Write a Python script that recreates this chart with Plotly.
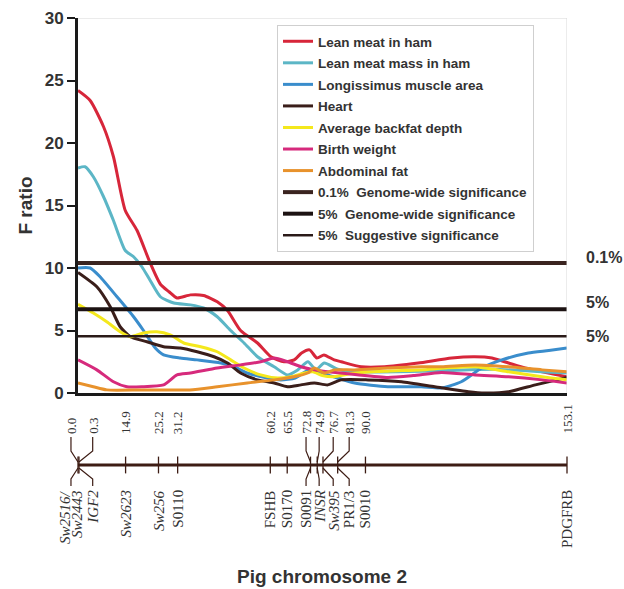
import plotly.graph_objects as go

# ---------------- data ----------------
X_MAX = 153.1

lean_ham_x = [0, 3.8, 8, 11.1, 14.8, 18.5, 22.6, 25.8, 28.5, 31, 35.2, 39.3, 43.6, 46.8, 50.9, 56.2, 60.4, 64.5,
              67.7, 70, 72.5, 74.8, 77, 80.2, 82.4, 88.7, 96, 106.5, 117, 124.2, 129.6, 134.8, 140, 145.3, 153.1]
lean_ham_y = [24.2, 23.4, 21.3, 18.9, 14.6, 13.0, 10.4, 8.7, 8.1, 7.6, 7.85, 7.8, 7.3, 6.6, 5.0, 4.0, 2.9, 2.5,
              2.65, 3.2, 3.45, 2.8, 3.05, 2.65, 2.5, 2.1, 2.1, 2.4, 2.8, 2.9, 2.8, 2.4, 2.0, 1.7, 1.3]

lean_mass_x = [0, 2.2, 4.8, 8, 11.1, 14.8, 17.4, 20, 22.6, 25.8, 30, 35.2, 39.3, 43.6, 47.8, 52, 56.2, 61.4,
               65.6, 68.8, 72, 74.5, 77.1, 81.3, 86, 100, 115, 130, 145, 153.1]
lean_mass_y = [18.0, 18.1, 17.3, 15.7, 13.8, 11.4, 10.9, 10.1, 9.0, 7.7, 7.2, 7.05, 6.8, 6.1, 5.0, 4.0, 2.9, 2.1,
               1.45, 1.85, 2.5, 1.85, 2.4, 1.9, 1.7, 1.7, 1.8, 1.9, 1.7, 1.6]

longis_x = [0, 3.8, 6.9, 12.2, 17.4, 20.5, 24.2, 26.8, 32, 37.3, 44.7, 48.8, 53, 59.3, 63.5, 68, 72, 76, 80,
            86.6, 97, 107.5, 113.8, 120, 126.4, 132.7, 141, 147.4, 153.1]
longis_y = [10.0, 10.0, 9.3, 7.7, 6.1, 5.0, 3.6, 3.05, 2.8, 2.65, 2.4, 2.1, 1.6, 1.2, 1.05, 1.2, 1.8, 1.6, 1.3,
            0.8, 0.5, 0.5, 0.4, 0.9, 2.0, 2.65, 3.2, 3.4, 3.6]

heart_x = [0, 5.9, 10.1, 13.2, 16.4, 21.6, 26.8, 32, 37.3, 42.6, 46.8, 50.9, 56.2, 61.4, 65.6, 69.8, 74, 78.2,
           82.4, 90.8, 101.3, 111.7, 122.2, 127.5, 134.8, 143.2, 153.1]
heart_y = [9.65, 8.5, 6.9, 5.3, 4.5, 4.1, 3.7, 3.6, 3.3, 2.9, 2.4, 1.6, 1.05, 0.8, 0.5, 0.65, 0.8, 0.65,
           1.05, 1.05, 0.9, 0.5, 0.1, 0.0, 0.1, 0.65, 1.25]

backfat_x = [0, 4.8, 9, 13.2, 16.4, 20.5, 24.7, 28.9, 33.1, 38.4, 43.6, 47.8, 52, 57.2, 62.5, 66.7, 70.9, 73.5,
             76.5, 80, 86.6, 97, 107.5, 115, 124.3, 134.8, 145.3, 153.1]
backfat_y = [7.1, 6.4, 5.7, 4.9, 4.5, 4.8, 4.9, 4.65, 4.0, 3.7, 3.3, 2.65, 2.0, 1.45, 1.2, 1.3, 1.6, 1.7,
             1.4, 1.3, 1.6, 1.75, 1.85, 2.0, 2.1, 1.7, 1.3, 1.05]

birth_x = [0, 5.9, 11.1, 15.3, 20, 26.8, 31, 35.2, 43.6, 50.9, 57.2, 61.4, 65.6, 69.8, 74, 78.2, 86, 97, 105,
           113.8, 124.3, 134.8, 145.3, 153.1]
birth_y = [2.65, 1.85, 0.9, 0.5, 0.5, 0.65, 1.45, 1.6, 2.0, 2.25, 2.5, 2.8, 2.5, 2.1, 1.85, 1.7, 1.5, 1.25, 1.4,
           1.65, 1.45, 1.3, 1.05, 0.8]

abdom_x = [0, 4.8, 9, 20, 35, 43.6, 53, 61.4, 67.7, 71.9, 74, 77.1, 80.3, 86.6, 97, 107.5, 113.8, 124.3,
           134.8, 145.3, 153.1]
abdom_y = [0.8, 0.5, 0.25, 0.25, 0.25, 0.5, 0.8, 1.05, 1.3, 1.6, 2.0, 1.6, 1.85, 1.85, 2.0, 2.1, 2.1, 2.25,
           2.1, 1.85, 1.7]

threshold_names = ["0.1%  Genome-wide significance", "5%  Genome-wide significance", "5%  Suggestive significance"]
threshold_values = [10.4, 6.7, 4.55]
threshold_labels = ["0.1%", "5%", "5%"]

marker_pos = [0.0, 0.3, 14.9, 25.2, 31.2, 60.2, 65.5, 72.8, 74.9, 76.7, 81.3, 90.0, 153.1]
marker_pos_text = ["0.0", "0.3", "14.9", "25.2", "31.2", "60.2", "65.5", "72.8", "74.9", "76.7", "81.3", "90.0", "153.1"]
marker_names = [["<i>Sw2516/</i>", "<i>Sw2443</i>"], ["<i>IGF2</i>"], ["<i>Sw2623</i>"], ["<i>Sw256</i>"], ["S0110"],
                ["FSHB"], ["S0170"], ["S0091"], ["<i>INSR</i>"], ["<i>Sw395</i>"], ["PR1/3"], ["S0010"], ["PDGFRB"]]

# ---------------- layout helpers ----------------
W, H = 624, 589
M_L, M_R, M_T, M_B = 60, 57, 18, 0
PLOT_W = W - M_L - M_R
PLOT_H = H - M_T - M_B
AXIS_LEFT_PX = 78          # where the F-ratio axis sits


def py(px):
    """page pixel row -> paper y"""
    return (H - M_B - px) / PLOT_H


def pxp(px):
    """page pixel column -> paper x"""
    return (px - M_L) / PLOT_W


X_DOM0 = pxp(AXIS_LEFT_PX)
X2_LO = -X_MAX * X_DOM0 / (1 - X_DOM0)   # map axis shares the same scale, just extends further left

# where the crowded marker labels are drawn (label display x, axis units)
LABEL_SHIFT = {0: -2.2, 1: 4.6, 7: 71.4, 8: 75.5, 9: 79.9, 10: 84.9}
LINE_GAP_PX = 12

fig = go.Figure()

series = [
    ("Lean meat in ham", lean_ham_x, lean_ham_y, "#d7263a"),
    ("Lean meat mass in ham", lean_mass_x, lean_mass_y, "#5cb6c6"),
    ("Longissimus muscle area", longis_x, longis_y, "#3a8dcc"),
    ("Heart", heart_x, heart_y, "#3a1e1a"),
    ("Average backfat depth", backfat_x, backfat_y, "#f4e81c"),
    ("Birth weight", birth_x, birth_y, "#d62a7c"),
    ("Abdominal fat", abdom_x, abdom_y, "#e8922c"),
]
for i, (name, xs, ys, col) in enumerate(series):
    fig.add_trace(go.Scatter(x=xs, y=ys, mode="lines", name=name, legendgroup=f"g{i}",
                             line=dict(color=col, width=3, shape="spline", smoothing=0.6)))

thr_styles = [("#3a2420", 4), ("#1c1212", 4), ("#2a1a18", 2.5)]
for j, (nm, val) in enumerate(zip(threshold_names, threshold_values)):
    col, w = thr_styles[j]
    fig.add_trace(go.Scatter(x=[0, X_MAX], y=[val, val], mode="lines", name=nm, legendgroup=f"t{j}",
                             line=dict(color=col, width=w)))

# chromosome map (own x axis with the same scale, plus a thin y axis for the bar)
MAP_COL = "#3d1c14"
fig.add_trace(go.Scatter(x=[0, X_MAX], y=[0, 0], mode="lines", xaxis="x2", yaxis="y2", showlegend=False,
                         hoverinfo="skip", line=dict(color=MAP_COL, width=3), cliponaxis=False))
fig.add_trace(go.Scatter(x=marker_pos, y=[0] * len(marker_pos), mode="markers", xaxis="x2", yaxis="y2",
                         showlegend=False, hoverinfo="skip", cliponaxis=False,
                         marker=dict(symbol="line-ns", size=12, line=dict(color=MAP_COL, width=1.3))))

# threshold labels at right
thr_shift = [6, 7, 0]
for lab, val, ys in zip(threshold_labels, threshold_values, thr_shift):
    fig.add_annotation(x=pxp(584), xref="paper", y=val, yref="y", yshift=ys, text=f"<b>{lab}</b>",
                       showarrow=False, xanchor="left", yanchor="middle",
                       font=dict(family="Liberation Sans, Arial", size=16, color="#333333"))

shapes = []
# light frame top & right
shapes.append(dict(type="line", xref="x", yref="y", x0=0, x1=X_MAX, y0=30, y1=30,
                   line=dict(color="#d8d8d8", width=1)))
shapes.append(dict(type="line", xref="x", yref="y", x0=X_MAX, x1=X_MAX, y0=0, y1=30,
                   line=dict(color="#d8d8d8", width=1)))

num_bottom = py(436)
name_top = py(488)
for k, p in enumerate(marker_pos):
    lx = LABEL_SHIFT.get(k, p)
    if k in LABEL_SHIFT:
        shapes.append(dict(type="path", xref="x2", yref="paper",
                           path=f"M {lx},{py(437)} L {lx},{py(451)} L {p},{py(462)}",
                           line=dict(color=MAP_COL, width=1.2)))
        shapes.append(dict(type="path", xref="x2", yref="paper",
                           path=f"M {p},{py(468)} L {lx},{py(479)} L {lx},{py(486)}",
                           line=dict(color=MAP_COL, width=1.2)))
    fig.add_annotation(x=lx, xref="x2", y=num_bottom, yref="paper", text=marker_pos_text[k],
                       textangle=-90, showarrow=False, xanchor="center", yanchor="bottom",
                       font=dict(family="Liberation Serif, Times New Roman", size=13, color="#333333"))
    lines = marker_names[k]
    n = len(lines)
    for li, txt in enumerate(lines):
        fig.add_annotation(x=lx, xref="x2", y=name_top, yref="paper", text=txt,
                           xshift=(li - (n - 1) / 2) * LINE_GAP_PX,
                           textangle=-90, showarrow=False, xanchor="center", yanchor="top",
                           font=dict(family="Liberation Serif, Times New Roman", size=15, color="#333333"))

fig.add_annotation(x=pxp(322), xref="paper", y=py(576), yref="paper", text="<b>Pig chromosome 2</b>",
                   showarrow=False, xanchor="center", yanchor="middle",
                   font=dict(family="Liberation Sans, Arial", size=19, color="#333333"))

fig.update_layout(
    width=W, height=H,
    margin=dict(l=M_L, r=M_R, t=M_T, b=M_B, pad=0),
    paper_bgcolor="white", plot_bgcolor="white",
    shapes=shapes,
    showlegend=True,
    legend=dict(x=pxp(277), y=py(25), xanchor="left", yanchor="top",
                bgcolor="white", bordercolor="#cfcfcf", borderwidth=1,
                font=dict(family="Liberation Sans, Arial", size=13.5, color="#333333", weight="bold"),
                tracegroupgap=1, itemwidth=30),
    xaxis=dict(range=[0, X_MAX], domain=[X_DOM0, 1.0], showgrid=False, zeroline=False,
               showticklabels=False, ticks="", showline=True, linecolor="#1a1a1a", linewidth=3),
    yaxis=dict(range=[0, 30], domain=[py(393), 1.0], showgrid=False, zeroline=False, automargin=False,
               tickvals=[0, 5, 10, 15, 20, 25, 30], ticks="outside", ticklen=8, tickwidth=2,
               tickcolor="#1a1a1a", showline=True, linecolor="#1a1a1a", linewidth=3,
               tickfont=dict(family="Liberation Sans, Arial", size=17, color="#333333", weight="bold"),
               title=dict(text="F ratio", standoff=8,
                          font=dict(family="Liberation Sans, Arial", size=19, color="#333333", weight="bold"))),
    xaxis2=dict(range=[X2_LO, X_MAX], domain=[0, 1], anchor="y2", visible=False),
    yaxis2=dict(range=[-1, 1], domain=[py(475), py(455)], anchor="x2", visible=False),
)

fig.write_html("out.html", config={"displayModeBar": False},
               post_script="document.body.style.margin='0px';document.body.style.overflow='hidden';")
